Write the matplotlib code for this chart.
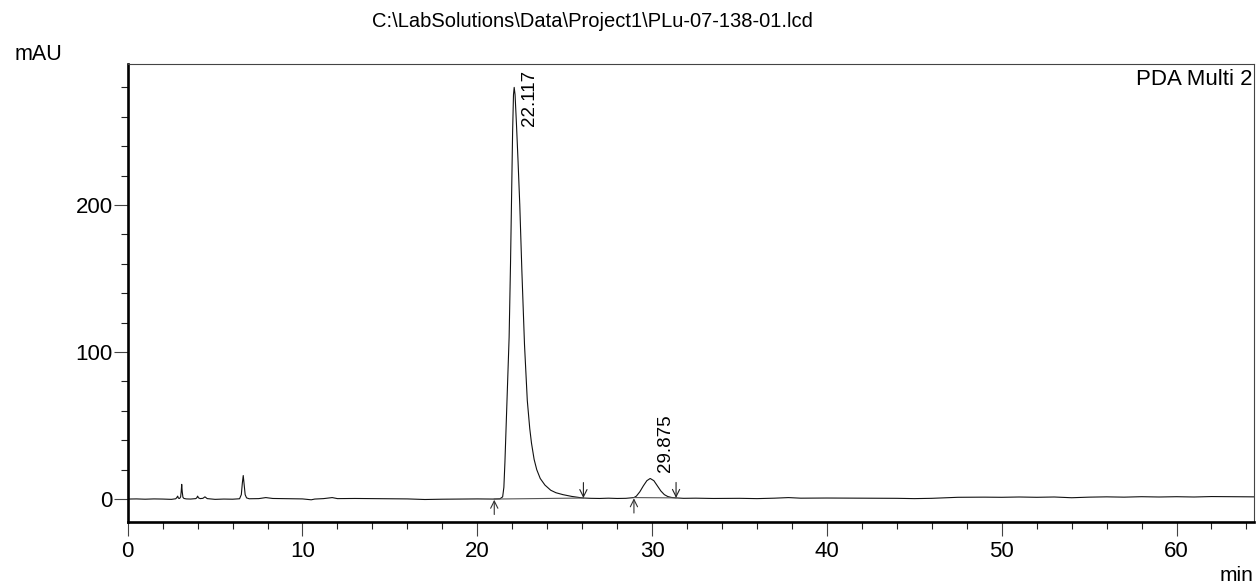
import matplotlib

matplotlib.use("Agg")
import matplotlib.pyplot as plt
from matplotlib.ticker import MultipleLocator

plt.rcParams["font.family"] = ["Liberation Sans", "DejaVu Sans"]

# chromatogram trace (min, mAU)
time_min = [
    0.0, 0.5, 1.0, 1.5, 2.0, 2.5, 2.75, 2.82, 2.86, 2.9, 2.97,
    3.03, 3.06, 3.09, 3.12, 3.16, 3.22, 3.35, 3.6, 3.9, 3.96, 4.0, 4.05,
    4.15, 4.3, 4.42, 4.55, 5.0, 5.5, 6.0, 6.4, 6.5, 6.56, 6.61, 6.66,
    6.72, 6.8, 6.95, 7.5, 7.9, 8.3, 9.0, 9.5, 10.0, 10.5, 10.7, 11.2,
    11.7, 12.0, 13.0, 14.0, 15.0, 16.0, 17.0, 18.0, 19.0, 20.0, 20.9,
    21.3, 21.45, 21.52, 21.58, 21.65, 21.72, 21.82, 21.9, 21.96, 22.02,
    22.07, 22.11, 22.16, 22.24, 22.33, 22.43, 22.55, 22.70, 22.86, 23.0,
    23.1, 23.25, 23.4, 23.6, 23.87, 24.2, 24.5, 24.9, 25.4, 25.87, 26.1,
    26.5, 27.0, 27.5, 28.0, 28.5, 28.96, 29.1, 29.3, 29.5, 29.7, 29.89,
    30.1, 30.3, 30.5, 30.7, 30.9, 31.1, 31.37, 31.8, 32.5, 33.5, 35.0,
    36.0, 37.0, 37.8, 38.5, 40.0, 42.0, 44.0, 45.0, 46.0, 47.5, 49.0,
    50.0, 51.0, 52.0, 53.0, 54.0, 55.0, 56.0, 57.0, 58.0, 59.0, 60.0,
    61.0, 62.0, 63.0, 64.43,
]
signal_mau = [
    0.0, 0.1, -0.1, 0.1, 0.0, -0.2, 0.2, 1.2, 2.0, 0.6, 0.4,
    1.5, 5.0, 10.0, 5.0, 1.2, 0.4, 0.1, 0.0, 0.3, 1.0, 2.0, 0.8,
    0.3, 0.5, 1.5, 0.3, -0.2, 0.0, -0.1, 0.2, 3.0, 11.0, 16.0, 10.0,
    3.0, 0.8, 0.2, 0.3, 1.0, 0.4, 0.3, 0.2, 0.1, -0.5, 0.0, 0.3,
    1.0, 0.3, 0.4, 0.3, 0.2, 0.1, -0.3, -0.1, 0.0, 0.1, 0.0,
    0.2, 1.5, 8.0, 25.0, 50.0, 75.0, 110.0, 160.0, 205.0, 250.0,
    275.0, 280.0, 275.0, 255.0, 230.0, 200.0, 155.0, 105.0, 67.0, 48.0,
    38.0, 27.0, 20.0, 14.0, 9.5, 6.0, 4.3, 3.0, 1.8, 1.0, 0.7,
    0.5, 0.4, 0.6, 0.4, 0.5, 1.0, 2.0, 5.0, 9.0, 12.5, 14.0,
    12.5, 9.0, 5.5, 3.0, 1.7, 1.1, 0.8, 0.5, 0.6, 0.4, 0.5,
    0.3, 0.6, 1.0, 0.6, 0.7, 0.6, 0.5, 0.3, 0.5, 1.2, 1.3,
    1.2, 1.4, 1.2, 1.4, 0.9, 1.3, 1.5, 1.3, 1.6, 1.4, 1.6,
    1.4, 1.7, 1.6, 1.5,
]

# integration marks: (start, end) of each peak and the baseline values there
peak_start = [20.97, 28.96]
peak_end = [26.07, 31.37]
start_level = [0.0, 1.0]
end_level = [0.7, 0.8]

peak_rt = ["22.117", "29.875"]
label_x = [23.0, 30.75]
label_y = [254, 18.6]

fig = plt.figure(figsize=(12.58, 5.85), dpi=100)
ax = fig.add_axes([0.1015, 0.1077, 0.8953, 0.7829])

ax.plot(time_min, signal_mau, color="#111111", lw=0.8)

arrow_kw = dict(arrowstyle="->", lw=0.8, mutation_scale=13, shrinkA=0, shrinkB=0)
for s, e, ls, le in zip(peak_start, peak_end, start_level, end_level):
    ax.plot([s, e], [ls, le], color="#555555", lw=0.8)
    ax.annotate("", xy=(s, ls - 0.5), xytext=(s, ls - 10.5),
                arrowprops=dict(color="#333333", **arrow_kw))
    ax.annotate("", xy=(e, le), xytext=(e, le + 10.5),
                arrowprops=dict(color="#222222", **arrow_kw))

for lab, lx, ly in zip(peak_rt, label_x, label_y):
    ax.text(lx, ly, lab, rotation=90, ha="center", va="bottom", fontsize=13.5)

ax.set_xlim(0, 64.43)
ax.set_ylim(-15.6, 295.9)

ax.xaxis.set_major_locator(MultipleLocator(10))
ax.xaxis.set_minor_locator(MultipleLocator(2))
ax.yaxis.set_major_locator(MultipleLocator(100))
ax.yaxis.set_minor_locator(MultipleLocator(20))

ax.tick_params(which="major", direction="out", length=10, width=0.8,
               labelsize=16, color="#444444")
ax.tick_params(which="minor", direction="out", length=5, width=0.8,
               color="#222222")
ax.tick_params(axis="x", which="major", pad=3.5)
ax.tick_params(axis="y", which="major", pad=0.7)

for side in ("left", "bottom"):
    ax.spines[side].set_linewidth(1.9)
    ax.spines[side].set_color("black")
for side in ("top", "right"):
    ax.spines[side].set_linewidth(0.8)
    ax.spines[side].set_color("#444444")

fig.text(592 / 1258, 1 - 27 / 585, r"C:\LabSolutions\Data\Project1\PLu-07-138-01.lcd",
         ha="center", va="baseline", fontsize=14.5)
fig.text(15 / 1258, 1 - 60 / 585, "mAU", ha="left", va="baseline", fontsize=15.5)
fig.text(1252 / 1258, 1 - 85 / 585, "PDA Multi 2", ha="right", va="baseline",
         fontsize=16)
fig.text(1253 / 1258, 1 - 581 / 585, "min", ha="right", va="baseline", fontsize=15)

fig.savefig("out.png", dpi=100)
